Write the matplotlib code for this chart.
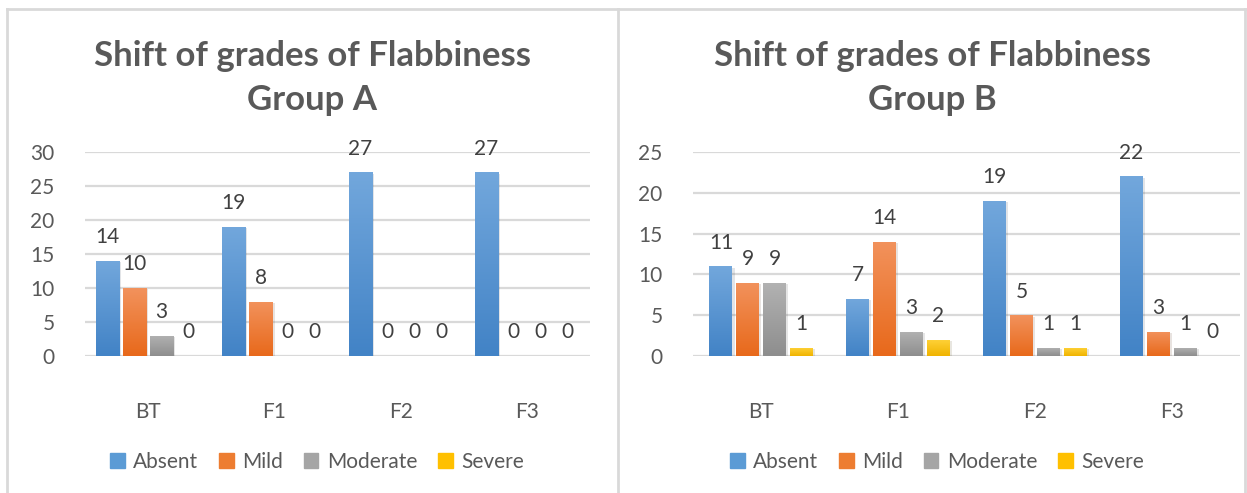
import numpy as np
import matplotlib.pyplot as plt
from matplotlib.colors import LinearSegmentedColormap
from matplotlib.lines import Line2D
from matplotlib.patches import Patch
import matplotlib.patheffects as pe

categories = ["BT", "F1", "F2", "F3"]
series = ["Absent", "Mild", "Moderate", "Severe"]

a_absent = [14, 19, 27, 27]
a_mild = [10, 8, 0, 0]
a_moderate = [3, 0, 0, 0]
a_severe = [0, 0, 0, 0]

b_absent = [11, 7, 19, 22]
b_mild = [9, 14, 5, 3]
b_moderate = [9, 3, 1, 1]
b_severe = [1, 2, 1, 0]

# (top, bottom) gradient colours, Excel style
grad = [("#72a7dc", "#4283c6"),
        ("#f2925c", "#e8691b"),
        ("#b2b2b2", "#8e8e8e"),
        ("#ffd23a", "#f0b400")]
solid = ["#5b9bd5", "#ed7d31", "#a5a5a5", "#ffc000"]

TXT = "#595959"
GRID = "#d9d9d9"
plt.rcParams['font.family'] = ['Lato', 'DejaVu Sans']

W, H = 1247, 493
fig = plt.figure(figsize=(W / 100, H / 100), dpi=100)


def px(x0, y_top, x1, y_bot):
    return [x0 / W, 1 - y_bot / H, (x1 - x0) / W, (y_bot - y_top) / H]


def draw_panel(rect, data, ymax, pitch, width, title, cx):
    ax = fig.add_axes(rect)
    x = np.arange(len(categories))
    for i, vals in enumerate(data):
        off = (i - 1.5) * pitch
        bars = ax.bar(x + off, vals, width, color=grad[i][1], zorder=3,
                      path_effects=[pe.SimplePatchShadow(offset=(1.5, -1), alpha=0.12),
                                    pe.Normal()])
        cmap = LinearSegmentedColormap.from_list("g", [grad[i][1], grad[i][0]])
        for b, v in zip(bars, vals):
            if v > 0:
                bx, by = b.get_x(), b.get_y()
                im = ax.imshow(np.linspace(0, 1, 64).reshape(-1, 1), cmap=cmap,
                               origin="lower", aspect="auto", zorder=4,
                               extent=(bx, bx + b.get_width(), by, by + b.get_height()))
                im.set_clip_path(b)
            ax.annotate(str(v), (b.get_x() + b.get_width() / 2, v),
                        xytext=(0, 17), textcoords="offset points",
                        ha="center", va="center", fontsize=15, color="#404040", zorder=5)
    ax.set_xlim(-0.5, len(categories) - 0.5)
    ax.set_ylim(0, ymax)
    ax.set_yticks(np.arange(0, ymax + 1, 5))
    ax.set_xticks(x)
    ax.set_xticklabels(categories)
    ax.yaxis.grid(True, color=GRID, lw=1.6, zorder=0)
    ax.set_axisbelow(True)
    for s in ax.spines.values():
        s.set_visible(False)
    ax.axhline(0, color=GRID, lw=1.8, zorder=2)
    ax.tick_params(length=0, labelsize=15, colors=TXT)
    ax.tick_params(axis="x", pad=33)
    ax.tick_params(axis="y", pad=22)
    fig.text(cx / W, 1 - 78 / H, title, ha="center", va="center", fontsize=25,
             fontweight="bold", color=TXT, linespacing=1.45)
    handles = [Patch(color=c) for c in solid]
    fig.legend(handles, series, loc="center", bbox_to_anchor=((cx + 5) / W, 1 - 462 / H),
               ncol=4, frameon=False, fontsize=15, labelcolor=TXT,
               handlelength=0.7, handleheight=0.7, handletextpad=0.4, columnspacing=1.0)
    return ax


draw_panel(px(85, 152, 590, 356), [a_absent, a_mild, a_moderate, a_severe],
           30, 0.214, 0.183, "Shift of grades of Flabbiness\nGroup A", 312)
draw_panel(px(693, 152, 1240, 356), [b_absent, b_mild, b_moderate, b_severe],
           25, 0.197, 0.168, "Shift of grades of Flabbiness\nGroup B", 932)

# chart borders
for xs, ys in [((7, 1245), (8.5, 8.5)), ((7, 7), (8.5, H)), ((618, 618), (8.5, H)),
               ((1245, 1245), (8.5, H))]:
    fig.add_artist(Line2D([xs[0] / W, xs[1] / W], [1 - ys[0] / H, 1 - ys[1] / H],
                          color=GRID, lw=2, transform=fig.transFigure))

fig.savefig("out.png", dpi=100)
